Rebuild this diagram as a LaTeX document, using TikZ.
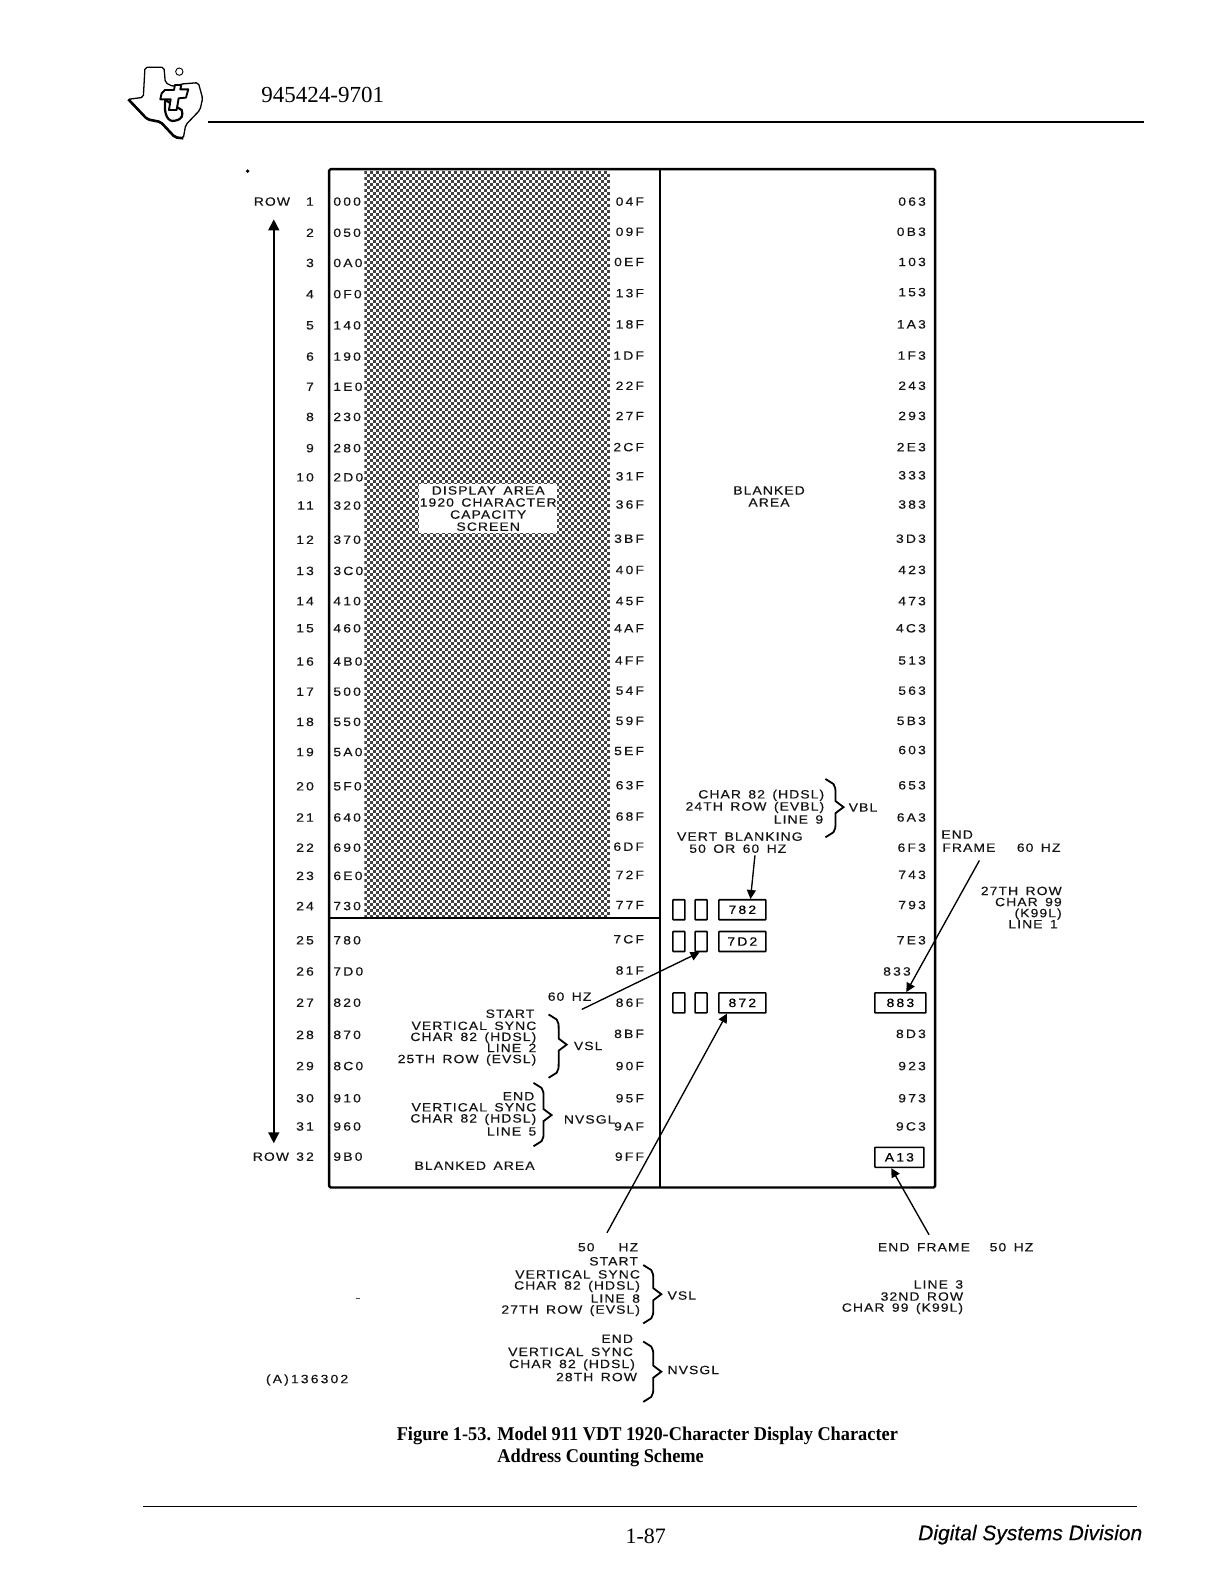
\documentclass[tikz,border=0pt]{standalone}
\usepackage{fontspec}
\setmainfont{Liberation Serif}
\setsansfont{Liberation Sans}
\newfontfamily\widefont[FakeStretch=1.16,LetterSpace=9,WordSpace=1.5,FakeBold=0.35]{Liberation Sans}
\newfontfamily\numfont[FakeStretch=1.16,LetterSpace=18,WordSpace=1.5,FakeBold=0.35]{Liberation Sans}
\usetikzlibrary{arrows.meta}
\tikzset{
  lab/.style={font=\widefont\fontsize{12}{12}\selectfont,inner sep=0pt,text=black!92,yshift=-.3pt},
  num/.style={font=\numfont\fontsize{12}{12}\selectfont},
  re/.style={lab,anchor=east},
  le/.style={lab,anchor=west},
  ce/.style={lab,anchor=center},
  frameline/.style={line width=2.4pt,line join=round},
  tick/.style={draw,line width=1.6pt,rounded corners=.6pt,inner sep=0pt,minimum width=#1,minimum height=20pt,anchor=center,font=\numfont\fontsize{12}{12}\selectfont},
  smallbox/.style={tick=12pt},
  valbox/.style={tick=47pt},
  ptr/.style={line width=1.35pt,-{Triangle[length=9pt,width=9pt]}},
  brc/.style={line width=1.8pt,line join=miter},
}
\newcommand{\rbr}[4]{% x, top, tip y, bottom
  \pgfmathsetmacro{\xa}{#1+10}\pgfmathsetmacro{\xt}{#1+18}
  \draw[brc] (#1,#2) -- ++(8,5) .. controls (\xa,#2+8) and (\xa,#2+10) .. (\xa,#2+14)
    -- (\xa,#3-6) -- (\xt,#3) -- (\xa,#3+6) -- (\xa,#4-14)
    .. controls (\xa,#4-10) and (\xa,#4-8) .. (#1+8,#4-5) -- (#1,#4);
}
\begin{document}
\begin{tikzpicture}[x=1.00658pt,y=-1.00638pt]
\useasboundingbox (0,0) rectangle (1216,1568);
\fill[white] (0,0) rectangle (1216,1568);

% Logo
\begin{scope}[shift={(119.2,59.6)},x=.3333pt,y=-.3333pt]
  \draw[line width=1.3pt,line join=round,fill=white,rounded corners=2pt]
    (75,22) -- (132,22) -- (136,68) -- (160,80) -- (185,72) -- (235,68) -- (248,115) -- (240,150)
    -- (197,195) -- (190,235) -- (165,232) -- (122,186) -- (82,178) -- (25,118) -- (70,112) -- cycle;
  \draw[line width=2.6pt,rounded corners=2pt] (25,118) -- (82,178) -- (122,186) -- (165,232) -- (190,235);
  \draw[line width=2.2pt,fill=white] (136,120) .. controls (130,165) and (145,188) .. (165,182)
     .. controls (188,178) and (190,165) .. (185,150) -- (136,120);
  \draw[line width=1.9pt,fill=white,line join=round]
    (135,90) -- (162,90) -- (165,75) -- (184,75) -- (181,88) -- (205,88) -- (198,113) -- (176,115)
    -- (170,150) -- (147,150) -- (152,118) -- (121,118) -- (125,100) -- cycle;
  \draw[line width=.9pt] (178,35) circle (11);
\end{scope}
\node[anchor=west,inner sep=0pt,font=\fontsize{23}{24}\selectfont] (docno) at (259.5,94) {945424-9701};
\coordinate (hl) at (207,121); \coordinate (hr) at (1137,121);
\draw[line width=1.9pt] (hl) -- (hr);
\fill (246,170) circle (1.9);
\fill[black!70] (354,1290) rectangle (358,1291);

% Stipple of the display area, on a 3px grid
\begin{scope}
  \clip (362,170) rectangle (606,912);
  \foreach \r in {0,...,248} {
    \pgfmathsetmacro{\yy}{(172.5+3*\r)/1.00638}
    \pgfmathsetmacro{\ph}{3*mod(\r,2)}
    \draw[line width=3pt,dash pattern=on 3pt off 3pt,dash phase=\ph pt,black!74] (361.6,\yy) -- (607,\yy);
  }
\end{scope}
\fill[white] (416,481) rectangle (553,530);

% Frame
\draw[frameline,rounded corners=1.5pt] (327,168) rectangle (929,1180);
\coordinate (mt) at (656,168); \coordinate (mb) at (656,1180);
\draw[line width=2pt] (mt) -- (mb);
\coordinate (sl) at (327,912); \coordinate (sr) at (656,912);
\draw[line width=1.4pt] (sl) -- (sr);

% Row numbers
\foreach \n/\y in {1/200,2/231,3/261,4/292,5/323,6/354,7/384,8/414,9/445,10/474,11/502,12/536,13/567,14/597,15/624,16/657,17/687,18/717,19/747,20/781,21/812,22/842,23/870,24/900,25/934,26/965,27/996,28/1028,29/1059,30/1091,31/1119,32/1149}
  \node[re,num] (n\n) at (312,\y) {\n};
\node[le] (rowtop) at (252,200) {ROW};
\node[le] (rowbot) at (251,1149) {ROW};
\coordinate (at) at (272,218); \coordinate (ab) at (272,1136);
\draw[line width=1.6pt,{Triangle[length=11pt,width=11pt]}-{Triangle[length=11pt,width=11pt]}] (at) -- (ab);

% Start addresses
\foreach \t/\y [count=\i] in {000/200,050/231,0A0/261,0F0/292,140/323,190/354,1E0/384,230/414,280/445,2D0/474,320/502,370/536,3C0/567,410/597,460/624,4B0/657,500/687,550/717,5A0/747,5F0/781,640/812,690/842,6E0/870,730/900,780/934,7D0/965,820/996,870/1028,8C0/1059,910/1091,960/1119,9B0/1149}
  \node[le,num] (a\i) at (331,\y) {\t};
% End addresses
\foreach \t/\y [count=\i] in {04F/200,09F/230,0EF/260,13F/291,18F/322,1DF/353,22F/383,27F/413,2CF/444,31F/473,36F/501,3BF/535,40F/566,45F/597,4AF/624,4FF/656,54F/686,59F/716,5EF/746,63F/780,68F/811,6DF/841,72F/869,77F/899,7CF/933,81F/964,86F/996,8BF/1027,90F/1059,95F/1091,9AF/1119,9FF/1149}
  \node[re,num] (e\i) at (640,\y) {\t};
% Blanked addresses
\foreach \t/\y [count=\i] in {063/200,0B3/230,103/260,153/290,1A3/322,1F3/353,243/383,293/413,2E3/444,333/472,383/501,3D3/535,423/566,473/597,4C3/624,513/656,563/686,5B3/716,603/745,653/780,6A3/812,6F3/842,743/869,793/899,7E3/934,8D3/1027,923/1059,973/1091,9C3/1119}
  \node[re,num] (b\i) at (920,\y) {\t};
\node[re,num] (b833) at (905,965) {833};

% Area labels
\foreach \t/\y/\nm in {DISPLAY AREA/487/da1,1920 CHARACTER/499/da2,CAPACITY/511/da3,SCREEN/523/da4}
  \node[ce] (\nm) at (485,\y) {\t};
\node[ce] (ba1) at (764,487) {BLANKED};
\node[ce] (ba2) at (764,499) {AREA};
\node[ce] (ba3) at (471.5,1158) {BLANKED AREA};

% Address boxes
\node[smallbox] (s1a) at (674.5,904) {};
\node[smallbox] (s1b) at (696.5,904) {};
\node[valbox] (b782) at (737.5,904) {782};
\node[smallbox] (s2a) at (674.5,935.5) {};
\node[smallbox] (s2b) at (696.5,935.5) {};
\node[valbox] (b7d2) at (737.5,935.5) {7D2};
\node[smallbox] (s3a) at (674.5,996.5) {};
\node[smallbox] (s3b) at (696.5,996.5) {};
\node[valbox] (b872) at (737.5,996.5) {872};
\node[tick=51pt] (b883) at (894.5,996.5) {883};
\node[tick=49pt] (ba13) at (893.5,1150) {A13};

% VBL group
\node[re] (v1) at (819,790) {CHAR 82 (HDSL)};
\node[re] (v2) at (819,802) {24TH ROW (EVBL)};
\node[re] (v3) at (818,814) {LINE 9};
\rbr{820}{774}{802}{832}
\node[le] (vbl) at (843,802) {VBL};
\node[ce] (vb1) at (735,831) {VERT BLANKING};
\node[ce] (vb2) at (733,843) {50 OR 60 HZ};
\coordinate (cvb) at (750,850);
\draw[ptr] (cvb) -- (b782.53);

% End frame 60
\node[le] (ef1) at (935,829) {END};
\node[le] (ef2) at (936,842) {FRAME};
\node[le] (ef3) at (1010,842) {60 HZ};
\node[re] (r1) at (1055,885) {27TH ROW};
\node[re] (r2) at (1055,896) {CHAR 99};
\node[re] (r3) at (1055,908) {(K99L)};
\node[re] (r4) at (1051,918) {LINE 1};
\coordinate (cef) at (973,855);
\draw[ptr] (cef) -- (b883.61);

% VSL 60
\node[le] (hz60) at (544,990) {60 HZ};
\coordinate (c60) at (578,1003);
\draw[ptr] (c60) -- (s2b.262);
\node[re] (l1) at (531,1007) {START};
\node[re] (l2) at (533,1019) {VERTICAL SYNC};
\node[re] (l3) at (533,1031) {CHAR 82 (HDSL)};
\node[re] (l4) at (533,1041) {LINE 2};
\node[re] (l5) at (533,1053) {25TH ROW (EVSL)};
\rbr{545}{1008}{1038}{1071}
\node[le] (vsl1) at (570,1039) {VSL};
% NVSGL 60
\node[re] (m1) at (531,1089) {END};
\node[re] (m2) at (533,1100) {VERTICAL SYNC};
\node[re] (m3) at (533,1112) {CHAR 82 (HDSL)};
\node[re] (m4) at (533,1124) {LINE 5};
\rbr{530}{1076}{1108}{1139}
\node[le] (nv1) at (560,1112) {NVSGL};

% 50 Hz
\node[le] (hz50) at (574,1239) {50\hspace{2em}HZ};
\coordinate (c50) at (603,1225);
\draw[ptr] (c50) -- (b872.215);
\node[re] (p1) at (634,1253) {START};
\node[re] (p2) at (636,1266) {VERTICAL SYNC};
\node[re] (p3) at (636,1278) {CHAR 82 (HDSL)};
\node[re] (p4) at (636,1290) {LINE 8};
\node[re] (p5) at (636,1302) {27TH ROW (EVSL)};
\rbr{639}{1257}{1286}{1315}
\node[le] (vsl2) at (663,1287) {VSL};
\node[re] (q1) at (629,1330) {END};
\node[re] (q2) at (629,1343) {VERTICAL SYNC};
\node[re] (q3) at (631,1356) {CHAR 82 (HDSL)};
\node[re] (q4) at (633,1368) {28TH ROW};
\rbr{639}{1333}{1363}{1393}
\node[le] (nv2) at (663,1361) {NVSGL};

% End frame 50
\node[le] (f1) at (872,1239) {END FRAME};
\node[le] (f2) at (983,1239) {50 HZ};
\node[re] (f3) at (957,1276) {LINE 3};
\node[re] (f4) at (957,1288) {32ND ROW};
\node[re] (f5) at (957,1300) {CHAR 99 (K99L)};
\coordinate (c50e) at (923,1227);
\draw[ptr] (c50e) -- (ba13.233);

\node[le,num] (drawno) at (264,1371) {(A)136302};

% Caption and footer
\node[anchor=west,inner sep=0pt,font=\bfseries\fontsize{19.5}{20}\selectfont] (cap1) at (394,1427) {\addfontfeature{FakeStretch=.94}Figure 1-53. Model 911 VDT 1920-Character Display Character};
\node[anchor=west,inner sep=0pt,font=\bfseries\fontsize{19.5}{20}\selectfont] (cap2) at (494,1449) {\addfontfeature{FakeStretch=.94}Address Counting Scheme};
\coordinate (fl) at (142,1497); \coordinate (fr) at (1130,1497);
\draw[line width=1.8pt] (fl) -- (fr);
\node[inner sep=0pt,font=\fontsize{22}{24}\selectfont] (pg) at (641.5,1527) {1-87};
\node[anchor=east,inner sep=0pt,font=\sffamily\itshape\fontsize{21}{22}\selectfont] (dsd) at (1135,1525) {\addfontfeature{FakeBold=0.3}Digital Systems Division};
\end{tikzpicture}
\end{document}
